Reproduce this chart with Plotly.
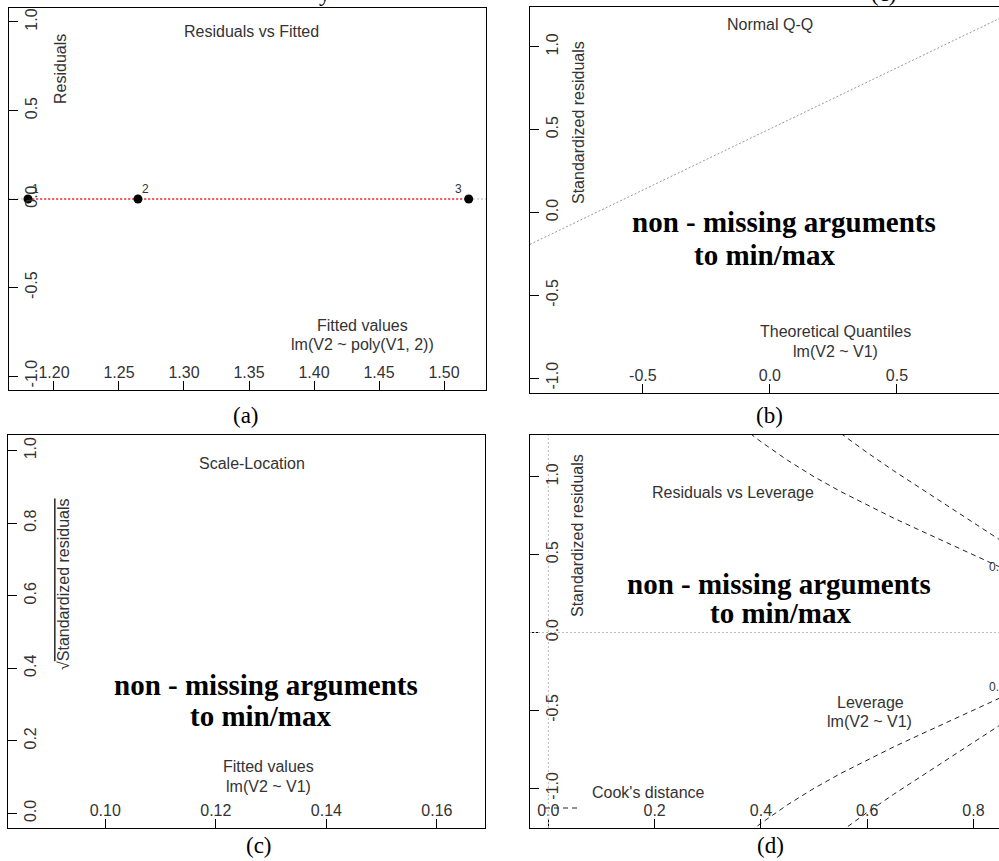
import plotly.graph_objects as go

W, H = 999, 861

# ---------------- data ----------------
# (a) Residuals vs Fitted
fitted_a = [1.180, 1.2646, 1.519]
resid_a = [0.0, 0.0, 0.0]
smooth_a = [0.0, 0.0, 0.0]
labels_a = ["1", "2", "3"]
xticks_a = [1.20, 1.25, 1.30, 1.35, 1.40, 1.45, 1.50]
xticktext_a = ["1.20", "1.25", "1.30", "1.35", "1.40", "1.45", "1.50"]
yticks_a = [-1.0, -0.5, 0.0, 0.5, 1.0]
yticktext_a = ["-1.0", "-0.5", "0.0", "0.5", "1.0"]

# (b) Normal Q-Q  (reference line only)
qq_intercept = 0.504
qq_slope = 0.738
xticks_b = [-0.5, 0.0, 0.5]
xticktext_b = ["-0.5", "0.0", "0.5"]
yticks_b = [-1.0, -0.5, 0.0, 0.5, 1.0]
yticktext_b = ["-1.0", "-0.5", "0.0", "0.5", "1.0"]

# (c) Scale-Location (empty)
xticks_c = [0.10, 0.12, 0.14, 0.16]
xticktext_c = ["0.10", "0.12", "0.14", "0.16"]
yticks_c = [0.0, 0.2, 0.4, 0.6, 0.8, 1.0]
yticktext_c = ["0.0", "0.2", "0.4", "0.6", "0.8", "1.0"]

# (d) Residuals vs Leverage: Cook's distance contours
cook05_h = [0.38, 0.40, 0.45, 0.50, 0.55, 0.60, 0.65, 0.70, 0.75, 0.80, 0.85]
cook05_r = [1.277, 1.225, 1.106, 1.000, 0.905, 0.817, 0.734, 0.655, 0.577, 0.500, 0.420]
cook1_h = [0.55, 0.60, 0.65, 0.70, 0.75, 0.80, 0.85]
cook1_r = [1.279, 1.155, 1.038, 0.926, 0.817, 0.707, 0.594]
xticks_d = [0.0, 0.2, 0.4, 0.6, 0.8]
xticktext_d = ["0.0", "0.2", "0.4", "0.6", "0.8"]
yticks_d = [-1.0, -0.5, 0.0, 0.5, 1.0]
yticktext_d = ["-1.0", "-0.5", "0.0", "0.5", "1.0"]

# ---------------- layout helpers ----------------
SANS = "Liberation Sans, Arial, sans-serif"
SERIF = "Liberation Serif, Times New Roman, serif"
TXT = "#333333"


def px(x):
    return x / W


def py(y):
    return 1 - y / H


def xaxis(domain, rng, tv, tt, anchor):
    return dict(domain=domain, range=rng, anchor=anchor, showgrid=False, zeroline=False,
                showline=True, linecolor="black", linewidth=1.3, mirror=True,
                ticks="inside", ticklen=9, tickwidth=1, tickcolor="black",
                ticklabelposition="inside", ticklabeloverflow="allow",
                tickvals=tv, ticktext=tt,
                tickfont=dict(family=SANS, size=16, color=TXT), fixedrange=True)


def yaxis(domain, rng, tv, tt, anchor, mirror):
    return dict(domain=domain, range=rng, anchor=anchor, showgrid=False, zeroline=False,
                showline=True, linecolor="black", linewidth=1.3, mirror=mirror,
                ticks="inside", ticklen=9, tickwidth=1, tickcolor="black",
                ticklabelposition="inside", ticklabeloverflow="allow",
                tickangle=-90, tickvals=tv, ticktext=tt,
                tickfont=dict(family=SANS, size=16, color=TXT), fixedrange=True)


fig = go.Figure()

# (a)
fig.add_trace(go.Scatter(x=fitted_a, y=smooth_a, mode="lines", xaxis="x", yaxis="y",
                         line=dict(color="#ff3333", width=1.4, dash="2px,2px"), showlegend=False))
fig.add_trace(go.Scatter(x=fitted_a, y=resid_a, mode="markers", xaxis="x", yaxis="y",
                         marker=dict(color="black", size=9), showlegend=False))

# (b) / (c): empty panels (no points could be drawn)
fig.add_trace(go.Scatter(x=[], y=[], mode="markers", xaxis="x2", yaxis="y2", showlegend=False))
fig.add_trace(go.Scatter(x=[], y=[], mode="markers", xaxis="x3", yaxis="y3", showlegend=False))

# (d) contours
dash_style = dict(color="#222", width=1, dash="5px,4px")
fig.add_trace(go.Scatter(x=cook05_h, y=cook05_r, mode="lines", xaxis="x4", yaxis="y4",
                         line=dash_style, showlegend=False))
fig.add_trace(go.Scatter(x=cook05_h, y=[-v for v in cook05_r], mode="lines", xaxis="x4", yaxis="y4",
                         line=dash_style, showlegend=False))
fig.add_trace(go.Scatter(x=cook1_h, y=cook1_r, mode="lines", xaxis="x4", yaxis="y4",
                         line=dash_style, showlegend=False))
fig.add_trace(go.Scatter(x=cook1_h, y=[-v for v in cook1_r], mode="lines", xaxis="x4", yaxis="y4",
                         line=dash_style, showlegend=False))

rng_b = [-0.944, 0.9016]

shapes = [
    # (a) zero reference line
    dict(type="line", xref="x domain", x0=0, x1=1, yref="y", y0=0, y1=0,
         line=dict(color="#bbbbbb", width=1, dash="2px,2px"), layer="below"),
    # (b) qq line
    dict(type="line", xref="x2", yref="y2", x0=rng_b[0], x1=rng_b[1],
         y0=qq_intercept + qq_slope * rng_b[0], y1=qq_intercept + qq_slope * rng_b[1],
         line=dict(color="#999999", width=1, dash="2px,2px")),
    # (d) dotted zero lines
    dict(type="line", xref="x4 domain", x0=0, x1=1, yref="y4", y0=0, y1=0,
         line=dict(color="#bbbbbb", width=1, dash="2px,2px")),
    dict(type="line", xref="x4", x0=0, x1=0, yref="y4 domain", y0=0, y1=1,
         line=dict(color="#bbbbbb", width=1, dash="2px,2px")),
    # (d) legend sample
    dict(type="line", xref="paper", yref="paper", x0=px(545), x1=px(577), y0=py(808), y1=py(808),
         line=dict(color="#222", width=1, dash="5px,4px")),
]

annotations = []


def ann(text, x, y, size=16, family=SANS, color=TXT, angle=0, weight="normal", xanchor="center"):
    annotations.append(dict(text=text, x=px(x), y=py(y), xref="paper", yref="paper",
                            showarrow=False, xanchor=xanchor, yanchor="middle", textangle=angle,
                            font=dict(family=family, size=size, color=color, weight=weight)))


# (a) texts
ann("Residuals vs Fitted", 251, 31)
ann("Residuals", 60, 69, angle=-90)
ann("Fitted values", 362, 325)
ann("lm(V2 ~ poly(V1, 2))", 362, 344)
for lab, xx in zip(labels_a, fitted_a):
    shift = -10 if lab == "3" else 8
    annotations.append(dict(text=lab, x=xx, y=0, xref="x", yref="y", showarrow=False,
                            xshift=shift, yshift=10, font=dict(family=SANS, size=12, color=TXT)))
ann("(a)", 246, 415, size=23, family=SERIF, color="black")

# (b) texts
ann("Normal Q-Q", 770, 25)
ann("Standardized residuals", 579, 123, angle=-90)
ann("Theoretical Quantiles", 835, 332)
ann("lm(V2 ~ V1)", 835, 351)
ann("non - missing arguments", 784, 222, size=29, family=SERIF, color="black", weight="bold")
ann("to min/max", 764, 255, size=29, family=SERIF, color="black", weight="bold")
ann("(b)", 769, 415, size=23, family=SERIF, color="black")

# (c) texts
ann("Scale-Location", 252, 463)
ann("\u221a<span style='text-decoration:overline'>Standardized residuals</span>", 63, 584, angle=-90)
ann("Fitted values", 268, 766)
ann("lm(V2 ~ V1)", 268, 786)
ann("non - missing arguments", 266, 685, size=29, family=SERIF, color="black", weight="bold")
ann("to min/max", 260, 716, size=29, family=SERIF, color="black", weight="bold")
ann("(c)", 259, 845, size=23, family=SERIF, color="black")

# (d) texts
ann("Residuals vs Leverage", 733, 492)
ann("Standardized residuals", 577, 536, angle=-90)
ann("Leverage", 870, 702)
ann("lm(V2 ~ V1)", 869, 721)
ann("non - missing arguments", 779, 584, size=29, family=SERIF, color="black", weight="bold")
ann("to min/max", 780, 613, size=29, family=SERIF, color="black", weight="bold")
ann("Cook's distance", 590, 792, xanchor="left")
ann("0.5", 987, 567, size=12, xanchor="left")
ann("0.5", 987, 687, size=12, xanchor="left")
ann("(d)", 770, 845, size=23, family=SERIF, color="black")

# cropped captions of the row above
ann("y", 325, -7, size=23, family=SERIF, color="black")
ann("(c)", 884, -7, size=23, family=SERIF, color="black")

fig.update_layout(
    width=W, height=H, margin=dict(l=0, r=0, t=0, b=0),
    paper_bgcolor="white", plot_bgcolor="white", showlegend=False,
    xaxis=xaxis([px(9), px(486)], [1.1654, 1.5323], xticks_a, xticktext_a, "y"),
    yaxis=yaxis([py(390), py(8)], [-1.079, 1.079], yticks_a, yticktext_a, "x", True),
    xaxis2=xaxis([px(530), 1.0], rng_b, xticks_b, xticktext_b, "y2"),
    yaxis2=yaxis([py(393), py(7)], [-1.09, 1.24], yticks_b, yticktext_b, "x2", False),
    xaxis3=xaxis([px(8), px(485)], [0.0824, 0.1687], xticks_c, xticktext_c, "y3"),
    yaxis3=yaxis([py(828), py(435)], [-0.0405, 1.043], yticks_c, yticktext_c, "x3", True),
    xaxis4=xaxis([px(530), 1.0], [-0.0345, 0.848], xticks_d, xticktext_d, "y4"),
    yaxis4=yaxis([py(828), py(435)], [-1.255, 1.268], yticks_d, yticktext_d, "x4", False),
    shapes=shapes, annotations=annotations,
)

fig.write_html("out.html")
